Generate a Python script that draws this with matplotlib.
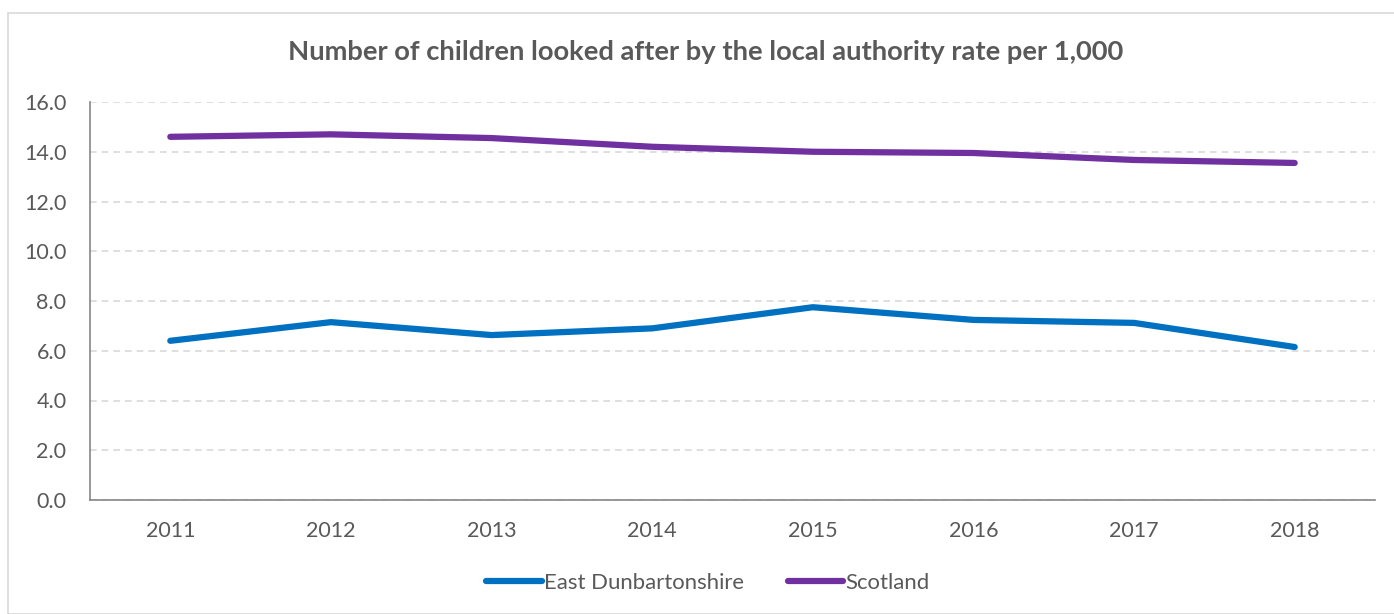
import matplotlib.pyplot as plt
from matplotlib.patches import Rectangle

plt.rcParams['font.family'] = ['Lato', 'DejaVu Sans']

years = ['2011', '2012', '2013', '2014', '2015', '2016', '2017', '2018']
east_dunbartonshire = [6.4, 7.15, 6.63, 6.9, 7.75, 7.24, 7.12, 6.15]
scotland = [14.6, 14.7, 14.55, 14.2, 14.0, 13.95, 13.67, 13.55]

text_col = '#595959'

fig = plt.figure(figsize=(13.94, 6.14), dpi=100)
ax = fig.add_axes([90 / 1394, 1 - 500 / 614, (1375 - 90) / 1394, (500 - 102) / 614])

# chart area border
fig.patches.append(Rectangle((8 / 1394, 0), 1.2, 1 - 13 / 614, transform=fig.transFigure,
                             fill=False, edgecolor='#d9d9d9', linewidth=1.2))

x = range(len(years))
ax.plot(x, east_dunbartonshire, color='#0070c0', linewidth=4.5, solid_capstyle='round',
        label='East Dunbartonshire')
ax.plot(x, scotland, color='#7030a0', linewidth=4.5, solid_capstyle='round',
        label='Scotland')

ax.set_xlim(-0.5, len(years) - 0.5)
ax.set_ylim(0, 16)
ax.set_yticks([0, 2, 4, 6, 8, 10, 12, 14, 16])
ax.set_yticklabels([f'{v:.1f}' for v in ax.get_yticks()])
ax.set_xticks(list(x))
ax.set_xticklabels(years)

ax.grid(axis='y', color='#d9d9d9', linestyle=(0, (4, 3)), linewidth=1.2)
ax.set_axisbelow(True)
for s in ['top', 'right']:
    ax.spines[s].set_visible(False)
ax.spines['left'].set_color('#868686')
ax.spines['bottom'].set_color('#868686')
ax.spines['left'].set_linewidth(1.2)
ax.spines['bottom'].set_linewidth(1.2)
ax.tick_params(axis='both', length=0, labelsize=15.5, colors=text_col)
ax.tick_params(axis='x', pad=15)
ax.tick_params(axis='y', pad=17)

fig.text(706 / 1394, 1 - 52 / 614, 'Number of children looked after by the local authority rate per 1,000',
         ha='center', va='center', fontsize=19.7, fontweight='bold', color=text_col)

fig.legend(loc='center', bbox_to_anchor=(708 / 1394, 1 - 583 / 614), ncol=2, frameon=False,
           fontsize=15.9, labelcolor=text_col, handlelength=2.5, handletextpad=0.1,
           columnspacing=2.0)

fig.savefig('out.png', dpi=100)
